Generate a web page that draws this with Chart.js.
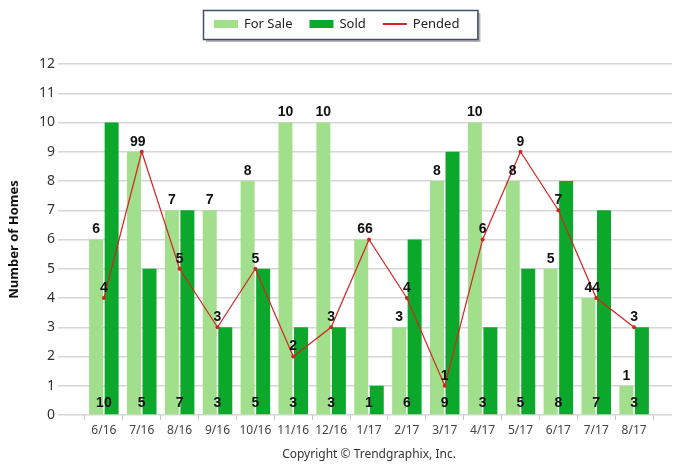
<!DOCTYPE html>
<html>
<head>
<meta charset="utf-8">
<title>Number of Homes</title>
<script src="https://cdn.jsdelivr.net/npm/chart.js@4.4.0/dist/chart.umd.min.js"></script>
<style>
    html, body { margin: 0; padding: 0; background: #fff; overflow: hidden; }
    #wrap { width: 693px; height: 472px; position: relative; }
</style>
</head>
<body>
<div id="wrap"><canvas id="homesChart"></canvas></div>
<script>
// values
var months = ['6/16', '7/16', '8/16', '9/16', '10/16', '11/16', '12/16', '1/17',
              '2/17', '3/17', '4/17', '5/17', '6/17', '7/17', '8/17'];
var forSale = [6, 9, 7, 7, 8, 10, 10, 6, 3, 8, 10, 8, 5, 4, 1];
var sold    = [10, 5, 7, 3, 5, 3, 3, 1, 6, 9, 3, 5, 8, 7, 3];
var pended  = [4, 9, 5, 3, 5, 2, 3, 6, 4, 1, 6, 9, 7, 4, 3];
var yMax = 12;

var colors = {
    forSale: '#a2df8d',
    sold: '#0ba82b',
    pended: '#d42424'
};

// one empty slot on each side, like the original axis
var labels = [''].concat(months, ['']);
function pad(arr) { return [null].concat(arr, [null]); }

var valueLabels = {
    id: 'valueLabels',
    afterDatasetsDraw: function (chart) {
        var ctx = chart.ctx;
        var xScale = chart.scales.x;
        var bottom = chart.chartArea.bottom;
        ctx.save();
        ctx.font = 'bold 14px "Liberation Sans", Arial, sans-serif';
        ctx.fillStyle = '#111';
        ctx.textAlign = 'center';
        ctx.textBaseline = 'middle';
        chart.data.datasets.forEach(function (ds, di) {
            var meta = chart.getDatasetMeta(di);
            meta.data.forEach(function (el, i) {
                var v = ds.data[i];
                if (v === null) return;
                if (ds.key === 'sold') {
                    ctx.fillText(v, xScale.getPixelForValue(i), bottom - 12);
                } else {
                    ctx.fillText(v, el.x, el.y - 10);
                }
            });
        });
        ctx.restore();
    }
};

var boxLegend = {
    id: 'boxLegend',
    afterDraw: function (chart) {
        var ctx = chart.ctx;
        var items = chart.data.datasets.map(function (ds) {
            return { text: ds.label, color: ds.key === 'pended' ? ds.borderColor : ds.backgroundColor, line: ds.type === 'line' };
        });
        // order in the legend: For Sale, Sold, Pended
        items.sort(function (a, b) { return a.line - b.line; });
        ctx.save();
        ctx.font = '13px "Noto Sans", sans-serif';
        var symW = 24, gapA = 6, gapB = 17;
        var w = 11;
        items.forEach(function (it, k) {
            it.w = ctx.measureText(it.text).width;
            w += symW + gapA + it.w + (k < items.length - 1 ? gapB : 0);
        });
        w += 18;
        var bx = 203, by = 10, bh = 29;
        ctx.fillStyle = '#b4b4b4';
        ctx.fillRect(bx + 3, by + 3, w, bh);
        ctx.fillStyle = '#fff';
        ctx.fillRect(bx, by, w, bh);
        ctx.strokeStyle = '#3e4e70';
        ctx.lineWidth = 1.5;
        ctx.strokeRect(bx + 0.5, by + 0.5, w, bh);
        var x = bx + 11, cy = by + 14;
        ctx.textBaseline = 'middle';
        items.forEach(function (it) {
            if (it.line) {
                ctx.strokeStyle = it.color;
                ctx.lineWidth = 2;
                ctx.beginPath();
                ctx.moveTo(x, cy);
                ctx.lineTo(x + symW, cy);
                ctx.stroke();
            } else {
                ctx.fillStyle = it.color;
                ctx.fillRect(x, cy - 4, symW, 8);
            }
            x += symW + gapA;
            ctx.fillStyle = '#222';
            ctx.fillText(it.text, x, cy);
            x += it.w + gapB;
        });
        // copyright line under the axis
        var area = chart.chartArea;
        ctx.font = '12px "Noto Sans", sans-serif';
        ctx.fillStyle = '#333';
        ctx.textAlign = 'center';
        ctx.fillText('Copyright \u00A9 Trendgraphix, Inc.', (area.left + area.right) / 2, 455);
        ctx.restore();
    }
};

Chart.defaults.font.family = '"Noto Sans", sans-serif';
Chart.defaults.color = '#333';

var ctx = document.getElementById('homesChart').getContext('2d');
new Chart(ctx, {
    type: 'bar',
    data: {
        labels: labels,
        datasets: [{
            key: 'forSale',
            label: 'For Sale',
            data: pad(forSale),
            backgroundColor: colors.forSale,
            order: 1
        }, {
            key: 'sold',
            label: 'Sold',
            data: pad(sold),
            backgroundColor: colors.sold,
            order: 1
        }, {
            key: 'pended',
            type: 'line',
            label: 'Pended',
            data: pad(pended),
            borderColor: colors.pended,
            backgroundColor: colors.pended,
            borderWidth: 1.2,
            pointRadius: 2,
            pointBorderWidth: 0,
            tension: 0,
            order: 0
        }]
    },
    options: {
        responsive: true,
        maintainAspectRatio: false,
        animation: false,
        categoryPercentage: 0.82,
        barPercentage: 0.9,
        layout: {
            padding: { left: 0, right: 21, top: 64, bottom: 0 }
        },
        plugins: {
            legend: { display: false },
            tooltip: { enabled: false }
        },
        scales: {
            x: {
                offset: false,
                border: { display: false },
                grid: {
                    drawOnChartArea: false,
                    tickLength: 5,
                    color: '#c4c4c4'
                },
                ticks: {
                    autoSkip: false,
                    maxRotation: 0,
                    padding: 3,
                    font: { size: 12 },
                    color: '#444'
                },
                afterFit: function (scale) { scale.height = 57; }
            },
            y: {
                min: 0,
                max: yMax,
                border: { display: false },
                grid: {
                    color: '#d6d6d6',
                    lineWidth: 1.5,
                    tickLength: 8
                },
                ticks: {
                    stepSize: 1,
                    padding: 3,
                    font: { size: 14 },
                    color: '#333'
                },
                title: {
                    display: true,
                    text: 'Number of Homes',
                    font: { size: 13, weight: 'bold' },
                    color: '#111',
                    padding: { top: 6, bottom: 0 }
                },
                afterFit: function (scale) { scale.width = 66; }
            }
        }
    },
    plugins: [valueLabels, boxLegend]
});
</script>
</body>
</html>
